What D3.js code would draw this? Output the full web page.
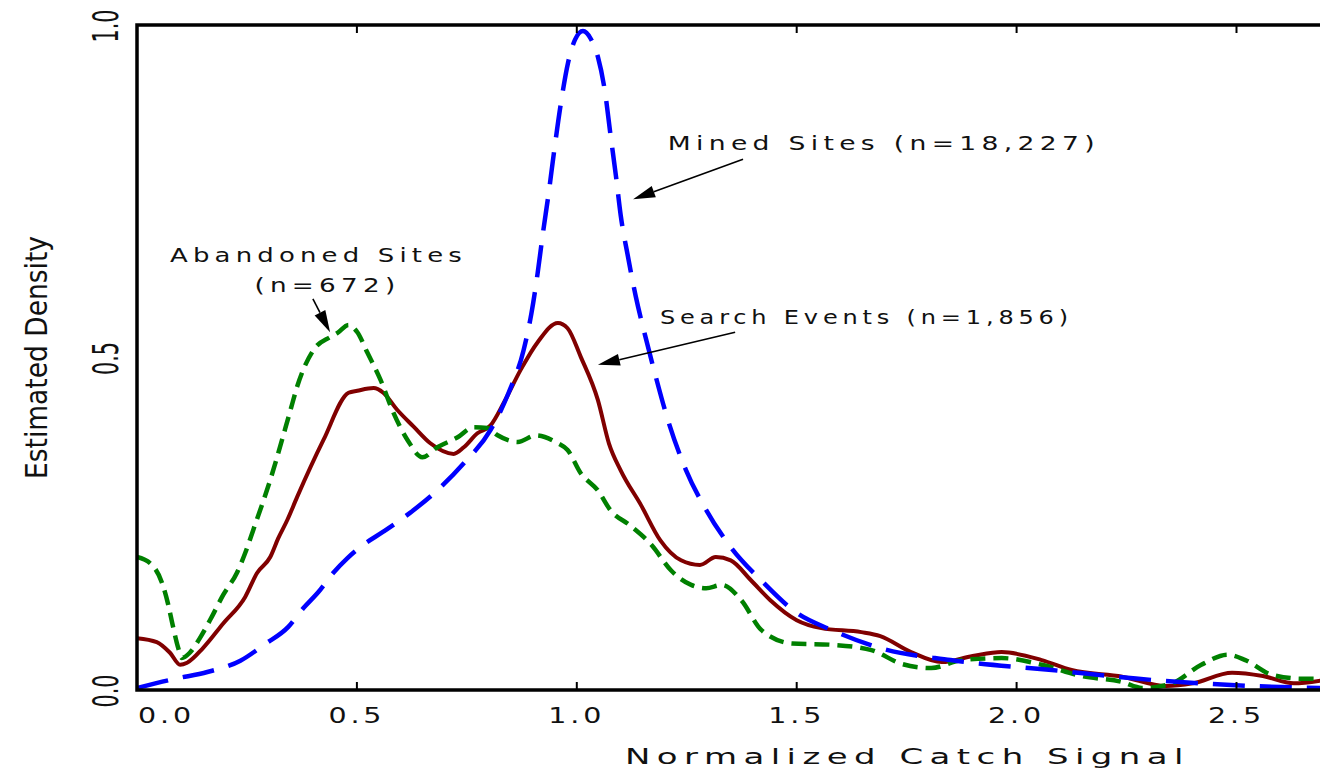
<!DOCTYPE html>
<html>
<head>
<meta charset="utf-8">
<script src="https://cdn.jsdelivr.net/npm/d3@7"></script>
<style>
  html, body { margin: 0; padding: 0; background: #fff; }
  svg { display: block; }
</style>
</head>
<body>
<svg id="chart" width="1320" height="774"></svg>
<script>
// density curves, [signal, density]
const minedSites = [
  [0, 0.003], [0.087, 0.017], [0.16, 0.027], [0.235, 0.044], [0.291, 0.069],
  [0.344, 0.095], [0.378, 0.123], [0.412, 0.147], [0.446, 0.176], [0.478, 0.198],
  [0.514, 0.218], [0.56, 0.238], [0.62, 0.266], [0.679, 0.298], [0.743, 0.341],
  [0.804, 0.391], [0.845, 0.447], [0.879, 0.511], [0.897, 0.567], [0.911, 0.627],
  [0.923, 0.687], [0.936, 0.747], [0.948, 0.808], [0.964, 0.883], [0.98, 0.943],
  [0.996, 0.978], [1.014, 0.991], [1.032, 0.979], [1.048, 0.952], [1.064, 0.9],
  [1.077, 0.833], [1.089, 0.773], [1.1, 0.713], [1.116, 0.653], [1.134, 0.592],
  [1.155, 0.534], [1.18, 0.47], [1.203, 0.415], [1.248, 0.331], [1.294, 0.271],
  [1.351, 0.214], [1.419, 0.165], [1.5, 0.116], [1.58, 0.09], [1.69, 0.063],
  [1.85, 0.045], [2.08, 0.03], [2.31, 0.015], [2.535, 0.006], [2.7, 0.003]
];

const searchEvents = [
  [0, 0.078], [0.045, 0.072], [0.075, 0.056], [0.098, 0.038], [0.114, 0.041],
  [0.15, 0.063], [0.196, 0.1], [0.246, 0.14], [0.273, 0.176], [0.303, 0.2],
  [0.321, 0.228], [0.342, 0.256], [0.364, 0.29], [0.424, 0.376], [0.481, 0.447],
  [0.501, 0.45], [0.538, 0.454], [0.56, 0.447], [0.592, 0.421], [0.629, 0.396],
  [0.667, 0.371], [0.72, 0.355], [0.743, 0.365], [0.774, 0.386], [0.804, 0.398],
  [0.834, 0.432], [0.872, 0.481], [0.911, 0.523], [0.957, 0.552], [0.979, 0.544],
  [1.009, 0.501], [1.048, 0.436], [1.073, 0.371], [1.1, 0.33], [1.146, 0.278],
  [1.19, 0.225], [1.237, 0.195], [1.28, 0.188], [1.316, 0.2], [1.35, 0.195],
  [1.396, 0.165], [1.44, 0.135], [1.5, 0.105], [1.556, 0.093], [1.647, 0.087],
  [1.69, 0.081], [1.76, 0.057], [1.83, 0.042], [1.9, 0.051], [1.966, 0.057],
  [2.057, 0.045], [2.125, 0.03], [2.24, 0.02], [2.34, 0.006], [2.4, 0.01],
  [2.49, 0.026], [2.56, 0.021], [2.63, 0.01], [2.7, 0.015]
];

const abandonedSites = [
  [0, 0.2], [0.034, 0.188], [0.057, 0.161], [0.07, 0.131], [0.082, 0.095],
  [0.093, 0.065], [0.102, 0.048], [0.12, 0.056], [0.143, 0.078], [0.17, 0.11],
  [0.196, 0.143], [0.227, 0.176], [0.246, 0.206], [0.264, 0.24], [0.303, 0.316],
  [0.349, 0.421], [0.364, 0.456], [0.401, 0.511], [0.44, 0.531], [0.456, 0.537],
  [0.481, 0.549], [0.501, 0.538], [0.524, 0.507], [0.554, 0.466], [0.583, 0.417],
  [0.615, 0.376], [0.649, 0.35], [0.683, 0.365], [0.729, 0.38], [0.765, 0.395],
  [0.797, 0.394], [0.82, 0.383], [0.866, 0.373], [0.907, 0.383], [0.957, 0.371],
  [0.979, 0.361], [1.009, 0.326], [1.048, 0.3], [1.077, 0.27], [1.12, 0.248],
  [1.17, 0.218], [1.214, 0.18], [1.26, 0.158], [1.294, 0.153], [1.33, 0.158],
  [1.374, 0.135], [1.42, 0.09], [1.49, 0.07], [1.58, 0.068], [1.67, 0.06],
  [1.74, 0.039], [1.806, 0.033], [1.875, 0.045], [1.966, 0.048], [2.057, 0.038],
  [2.148, 0.021], [2.24, 0.012], [2.285, 0.003], [2.35, 0.009], [2.42, 0.038],
  [2.48, 0.053], [2.52, 0.045], [2.58, 0.023], [2.65, 0.017], [2.7, 0.017]
];

const xTicks = [0, 0.5, 1.0, 1.5, 2.0, 2.5];
const yTicks = [0, 0.5, 1.0];
const xTitle = "Normalized Catch Signal";
const yTitle = "Estimated Density";

// labels with arrows, in data units
const notes = [
  { lines: ["Mined Sites (n=18,227)"], at: [1.207, 0.812], widths: [432], from: [1.378, 0.798], to: [1.128, 0.738] },
  { lines: ["Search Events (n=1,856)"], at: [1.189, 0.55], widths: [413], from: [1.36, 0.538], to: [1.048, 0.489] },
  { lines: ["Abandoned Sites", "(n=672)"], at: [0.075, 0.644], widths: [297, 146], from: [0.4, 0.588], to: [0.439, 0.538] }
];

let svg = d3.select('#chart');

let plotLeft = 137, plotRight = 137 + 2.7 * 439.8, plotTop = 25, plotBottom = 690;

let x = d3.scaleLinear().domain([0, 2.7]).range([plotLeft, plotRight]);
let y = d3.scaleLinear().domain([0, 1]).range([plotBottom, plotTop]);

svg.append('clipPath').attr('id', 'plot-clip')
  .append('rect')
  .attr('x', plotLeft).attr('y', plotTop)
  .attr('width', plotRight - plotLeft).attr('height', plotBottom - plotTop);

let line = d3.line()
  .x(d => x(d[0]))
  .y(d => y(d[1]))
  .curve(d3.curveMonotoneX);

let curves = svg.append('g').attr('clip-path', 'url(#plot-clip)');

curves.append('path')
  .datum(searchEvents)
  .attr('d', line)
  .attr('fill', 'none')
  .attr('stroke', '#800000')
  .attr('stroke-width', 4);

curves.append('path')
  .datum(abandonedSites)
  .attr('d', line)
  .attr('fill', 'none')
  .attr('stroke', '#008000')
  .attr('stroke-width', 4.5)
  .attr('stroke-dasharray', '15,8');

curves.append('path')
  .datum(minedSites)
  .attr('d', line)
  .attr('fill', 'none')
  .attr('stroke', '#0000ff')
  .attr('stroke-width', 4.5)
  .attr('stroke-dasharray', '32,15');

// frame
svg.append('path')
  .attr('d', `M${plotRight + 2},${plotTop} H${plotLeft} V${plotBottom} H${plotRight + 2}`)
  .attr('fill', 'none')
  .attr('stroke', '#000')
  .attr('stroke-width', 3.5);

// inward ticks, bottom and top
let tickMarks = xTicks.filter(t => t > 0);
svg.selectAll('.tick-b').data(tickMarks).enter()
  .append('line')
  .attr('x1', d => x(d)).attr('x2', d => x(d))
  .attr('y1', plotBottom).attr('y2', plotBottom - 8)
  .attr('stroke', '#000').attr('stroke-width', 2);
svg.selectAll('.tick-t').data(tickMarks).enter()
  .append('line')
  .attr('x1', d => x(d)).attr('x2', d => x(d))
  .attr('y1', plotTop).attr('y2', plotTop + 8)
  .attr('stroke', '#000').attr('stroke-width', 2);

let sansWide = "'DejaVu Sans', 'Liberation Sans', sans-serif";
let sansNarrow = "'DejaVu Sans Condensed', 'Liberation Sans Narrow', 'DejaVu Sans', sans-serif";

svg.selectAll('.xlab').data(xTicks).enter()
  .append('text')
  .attr('x', d => d === 0 ? plotLeft + 1 : x(d))
  .attr('y', 723)
  .attr('text-anchor', d => d === 0 ? 'start' : 'middle')
  .attr('font-family', sansWide)
  .attr('font-size', 22)
  .attr('letter-spacing', 3)
  .attr('textLength', 57)
  .attr('lengthAdjust', 'spacingAndGlyphs')
  .attr('fill', '#111')
  .text(d => d.toFixed(1));

svg.selectAll('.ylab').data(yTicks).enter()
  .append('text')
  .attr('transform', d => `translate(118,${y(d) + 1}) rotate(-90)`)
  .attr('text-anchor', 'middle')
  .attr('font-family', sansNarrow)
  .attr('font-size', 35)
  .attr('textLength', 33)
  .attr('lengthAdjust', 'spacingAndGlyphs')
  .attr('fill', '#111')
  .text(d => d.toFixed(1));

svg.append('text')
  .attr('x', 625).attr('y', 764)
  .attr('font-family', sansWide)
  .attr('font-size', 21)
  .attr('letter-spacing', 4)
  .attr('textLength', 565)
  .attr('lengthAdjust', 'spacingAndGlyphs')
  .attr('fill', '#111')
  .text(xTitle);

svg.append('text')
  .attr('transform', `translate(47,${(plotTop + plotBottom) / 2}) rotate(-90)`)
  .attr('text-anchor', 'middle')
  .attr('font-family', sansNarrow)
  .attr('font-size', 30)
  .attr('font-weight', 300)
  .attr('textLength', 243)
  .attr('lengthAdjust', 'spacingAndGlyphs')
  .attr('fill', '#111')
  .text(yTitle);

// annotations
notes.forEach(n => {
  n.lines.forEach((txt, i) => {
    let tx = x(n.at[0]);
    if (i > 0) tx = tx + (n.widths[0] - n.widths[i]) / 2 + 9;
    svg.append('text')
      .attr('x', tx)
      .attr('y', y(n.at[1]) + i * 30)
      .attr('font-family', sansWide)
      .attr('font-size', 20)
      .attr('letter-spacing', 4)
      .attr('textLength', n.widths[i])
      .attr('lengthAdjust', 'spacingAndGlyphs')
      .attr('fill', '#111')
      .text(txt);
  });

  let x0 = x(n.from[0]), y0 = y(n.from[1]);
  let x1 = x(n.to[0]), y1 = y(n.to[1]);
  let ang = Math.atan2(y1 - y0, x1 - x0);
  let len = 22, half = 6;
  let bx = x1 - len * Math.cos(ang), by = y1 - len * Math.sin(ang);
  svg.append('line')
    .attr('x1', x0).attr('y1', y0)
    .attr('x2', bx).attr('y2', by)
    .attr('stroke', '#000').attr('stroke-width', 1.6);
  svg.append('path')
    .attr('d', `M${x1},${y1} L${bx + half * Math.sin(ang)},${by - half * Math.cos(ang)} L${bx - half * Math.sin(ang)},${by + half * Math.cos(ang)} Z`)
    .attr('fill', '#000');
});
</script>
</body>
</html>
